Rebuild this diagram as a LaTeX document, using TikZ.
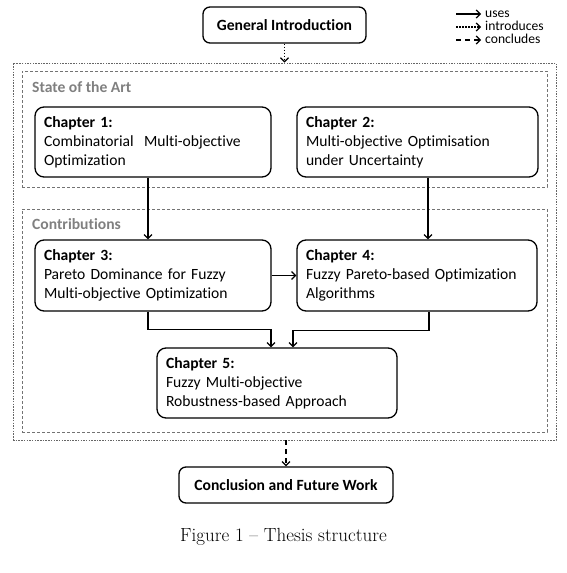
\documentclass[tikz,border=0pt]{standalone}
\usepackage{fontspec}
\newfontfamily\calibri[Ligatures=NoCommon]{Carlito}
\usetikzlibrary{arrows.meta}

\begin{document}
\begin{tikzpicture}[x=1pt, y=-1pt,
    chapbox/.style={draw, rounded corners=9pt, line width=1.3pt, align=left,
      inner xsep=9pt, inner ysep=0pt, minimum height=70pt,
      font=\calibri\fontsize{15.6}{19}\selectfont},
    titlebox/.style={draw, rounded corners=7pt, line width=1.3pt, inner sep=0pt,
      minimum height=36pt, font=\calibri\bfseries\fontsize{15.6}{19}\selectfont},
    frame/.style={draw=black!55, line width=0.8pt, dash pattern=on 3pt off 2pt,
      inner sep=0pt},
    outerframe/.style={draw=black!60, line width=0.9pt, dash pattern=on 1.5pt off 1.2pt,
      inner sep=0pt},
    framelabel/.style={anchor=base west, inner sep=0pt, text=black!50,
      font=\calibri\bfseries\fontsize{15.6}{19}\selectfont},
    legendtext/.style={anchor=base west, inner sep=0pt, text height=8.5pt, text depth=2pt,
      font=\calibri\fontsize{13.6}{14}\selectfont},
    tip/.style={-{Straight Barb[length=4pt,width=8pt,line width=1.2pt]}},
    uses/.style={tip, line width=1.2pt},
    introduces/.style={tip, line width=1.5pt, dash pattern=on 1.5pt off 1.5pt},
    concludes/.style={tip, line width=1.4pt, dash pattern=on 5pt off 4pt}]
  \useasboundingbox (0,0) rectangle (567,573);

  % frames
  \node[outerframe, minimum width=543pt, minimum height=377pt] (outer) at (284.5,251.5) {};
  \node[frame, minimum width=525pt, minimum height=116pt] (art) at (284.5,129) {};
  \node[frame, minimum width=525pt, minimum height=223pt] (contrib) at (284.5,320.5) {};
  \node[framelabel] (artlabel) at (32,92) {State of the Art};
  \node[framelabel] (contriblabel) at (32,229) {Contributions};

  % boxes
  \node[titlebox, minimum width=163pt] (intro) at (284.5,25) {General Introduction};
  \node[chapbox, text width=218pt] (ch1) at (153,142)
    {\textbf{Chapter 1:}\\Combinatorial\ \ Multi-objective\\Optimization};
  \node[chapbox, text width=223pt] (ch2) at (417.5,142)
    {\textbf{Chapter 2:}\\Multi-objective Optimisation\\under Uncertainty};
  \node[chapbox, text width=218pt, minimum height=71pt] (ch3) at (153,275.5)
    {\textbf{Chapter 3:}\\Pareto Dominance for Fuzzy\\Multi-objective Optimization};
  \node[chapbox, text width=222pt, minimum height=71pt] (ch4) at (417,275.5)
    {\textbf{Chapter 4:}\\Fuzzy Pareto-based Optimization\\Algorithms};
  \node[chapbox, text width=222pt] (ch5) at (277,383)
    {\textbf{Chapter 5:}\\Fuzzy Multi-objective\\Robustness-based Approach};
  \node[titlebox, minimum width=214pt] (concl) at (286,485) {Conclusion and Future Work};

  % legend
  \coordinate (lg1a) at (456,14);
  \coordinate (lg1b) at (481,14);
  \coordinate (lg2a) at (456,27);
  \coordinate (lg2b) at (481,27);
  \coordinate (lg3a) at (456,40);
  \coordinate (lg3b) at (481,40);
  \draw[uses] (lg1a) -- (lg1b);
  \draw[introduces] (lg2a) -- (lg2b);
  \draw[concludes] (lg3a) -- (lg3b);
  \node[legendtext] (lguses) at (485,17.5) {uses};
  \node[legendtext] (lgintro) at (485,30.5) {introduces};
  \node[legendtext] (lgconcl) at (485,43.5) {concludes};

  % links
  \draw[introduces] (intro.south) -- (outer.north -| intro.south);
  \draw[uses] ([xshift=-5pt]ch1.south) -- ([xshift=-5pt]ch3.north);
  \draw[uses] ([xshift=10.5pt]ch2.south) -- ([xshift=11pt]ch4.north);
  \draw[uses] (ch3.east) -- (ch4.west);
  \draw[uses] ([xshift=-5pt]ch3.south) -- ++(0,18) -| ([xshift=-6pt]ch5.north);
  \draw[uses] ([xshift=12pt]ch4.south) -- ++(0,19) -| ([xshift=16pt]ch5.north);
  \draw[concludes] (outer.south -| concl.north) -- (concl.north);

  % caption
  \node[anchor=base, inner sep=0pt, font=\fontsize{19}{22}\selectfont] (caption)
    at (283.5,541) {Figure 1 -- Thesis structure};
\end{tikzpicture}
\end{document}
